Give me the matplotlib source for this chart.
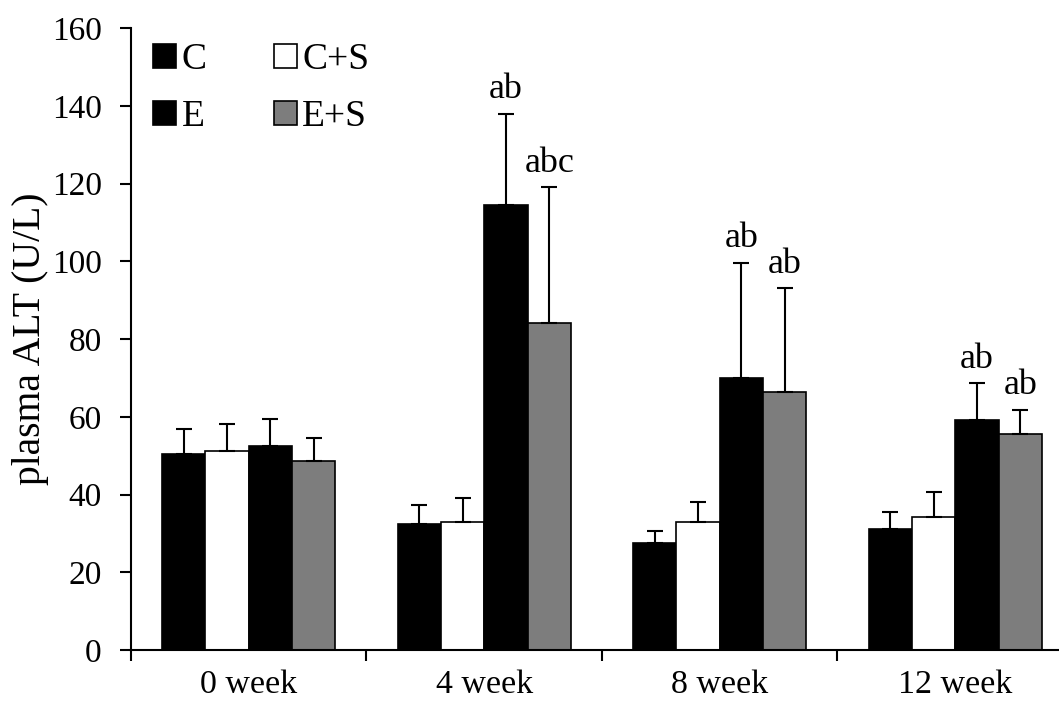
import numpy as np
import matplotlib.pyplot as plt

plt.rcParams['font.family'] = ['Liberation Serif', 'DejaVu Serif']
plt.rcParams['font.size'] = 24

weeks = ['0 week', '4 week', '8 week', '12 week']
groups = ['C', 'C+S', 'E', 'E+S']
colors = ['black', 'white', 'black', '#7d7d7d']

# mean values and upper error
c_mean = [50.4, 32.5, 27.5, 31.1]
c_err = [6.4, 4.8, 3.0, 4.3]
cs_mean = [51.3, 33.0, 33.0, 34.3]
cs_err = [6.8, 6.0, 5.0, 6.4]
e_mean = [52.5, 114.5, 70.0, 59.2]
e_err = [6.9, 23.5, 29.5, 9.4]
es_mean = [48.7, 84.0, 66.5, 55.5]
es_err = [5.8, 35.0, 26.5, 6.2]

e_labels = ['', 'ab', 'ab', 'ab']
es_labels = ['', 'abc', 'ab', 'ab']

means = [c_mean, cs_mean, e_mean, es_mean]
errs = [c_err, cs_err, e_err, es_err]

fig = plt.figure(figsize=(10.59, 7.06), dpi=100)
ax = fig.add_axes([0.1237, 0.0793, 0.8895, 0.881])

x = np.arange(len(weeks))
w = 0.184
bars = []
for i, (m, er) in enumerate(zip(means, errs)):
    pos = x + (i - 1.5) * w
    b = ax.bar(pos, m, width=w, color=colors[i], edgecolor='black', linewidth=1.2,
               label=groups[i], zorder=2)
    bars.append(b)
    ax.errorbar(pos, m, yerr=[np.zeros(len(m)), er], fmt='none', ecolor='black',
                elinewidth=1.5, capsize=5.5, capthick=1.5, zorder=3)

# significance letters
for j in range(len(weeks)):
    if e_labels[j]:
        ax.text(x[j] + 0.5 * w, e_mean[j] + e_err[j] + 2, e_labels[j],
                ha='center', va='bottom', fontsize=26)
    if es_labels[j]:
        ax.text(x[j] + 1.5 * w, es_mean[j] + es_err[j] + 2, es_labels[j],
                ha='center', va='bottom', fontsize=26)

ax.set_xlim(-0.5, 3.5)
ax.set_ylim(0, 160)
ax.set_yticks(range(0, 161, 20))
ax.set_xticks(x)
ax.set_xticklabels(weeks, fontsize=24.5)
ax.set_xticks(np.arange(-0.5, 3.6, 1), minor=True)
ax.tick_params(axis='x', which='major', length=0, pad=14)
ax.tick_params(axis='x', which='minor', length=8, width=1.5, direction='out')
ax.tick_params(axis='y', length=8, width=1.5, direction='out', pad=13, labelsize=24)
ax.set_ylabel('plasma ALT (U/L)', fontsize=28.5, labelpad=2)

for s in ['top', 'right']:
    ax.spines[s].set_visible(False)
for s in ['left', 'bottom']:
    ax.spines[s].set_linewidth(1.5)

# row-major legend: C, C+S / E, E+S
order = [0, 2, 1, 3]
ax.legend([bars[k] for k in order], [groups[k] for k in order],
          ncol=2, loc='upper left', bbox_to_anchor=(0.0, 1.013), frameon=False,
          fontsize=27, handlelength=0.6, handleheight=0.6, handletextpad=0.15,
          columnspacing=1.8, labelspacing=0.61, borderaxespad=0.2)

fig.savefig('out.png', dpi=100)
